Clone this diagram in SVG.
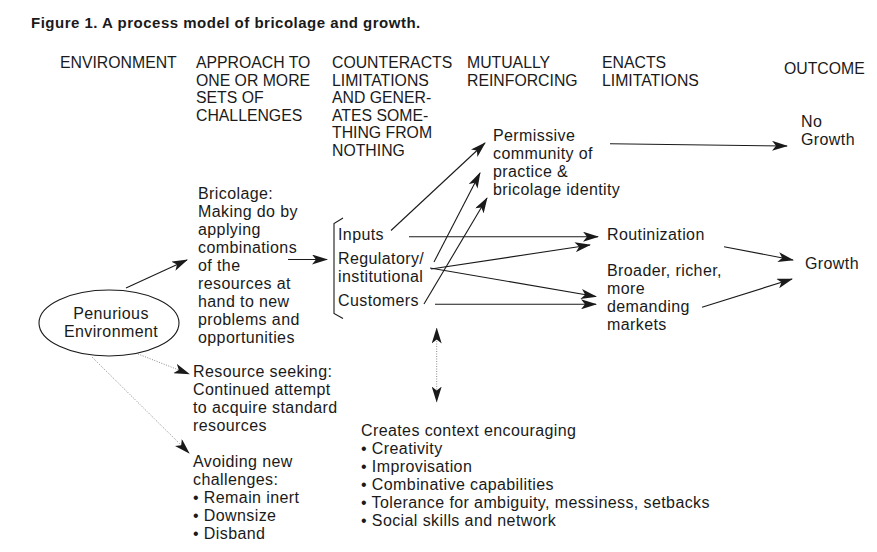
<svg xmlns="http://www.w3.org/2000/svg" width="877" height="552" viewBox="0 0 877 552">
<style>
text{font-family:"Liberation Sans",Arial,sans-serif;fill:#1a1a1a}
.t{font-size:15px;font-weight:bold;letter-spacing:0.5px}
.h{font-size:15.8px}
.b{font-size:16px;letter-spacing:0.4px}
.ln{stroke:#1a1a1a;stroke-width:1.1;fill:none}
.dot{stroke:#8a8a8a;stroke-width:1;stroke-dasharray:1 1.5;fill:none}
</style>
<defs>
<marker id="ah" viewBox="0 0 16 10" refX="15" refY="5" markerWidth="16" markerHeight="10" markerUnits="userSpaceOnUse" orient="auto-start-reverse">
<path d="M0,0 L16,5 L0,10 L4,5 Z" fill="#1a1a1a"/>
</marker>
</defs>
<rect width="877" height="552" fill="#fff"/>
<text class="t" x="31" y="28">Figure 1. A process model of bricolage and growth.</text>
<g id="headings" class="h">
<text class="h" x="60" y="68">ENVIRONMENT</text>
<text class="h" x="196" y="68">APPROACH TO<tspan x="196" dy="17.6">ONE OR MORE</tspan><tspan x="196" dy="17.6">SETS OF</tspan><tspan x="196" dy="17.6">CHALLENGES</tspan></text>
<text class="h" x="332" y="68">COUNTERACTS<tspan x="332" dy="17.6">LIMITATIONS</tspan><tspan x="332" dy="17.6">AND GENER-</tspan><tspan x="332" dy="17.6">ATES SOME-</tspan><tspan x="332" dy="17.6">THING FROM</tspan><tspan x="332" dy="17.6">NOTHING</tspan></text>
<text class="h" x="467" y="68">MUTUALLY<tspan x="467" dy="17.6">REINFORCING</tspan></text>
<text class="h" x="602" y="68">ENACTS<tspan x="602" dy="17.6">LIMITATIONS</tspan></text>
<text class="h" x="784" y="74">OUTCOME</text>
</g>
<g id="penurious">
<ellipse cx="109" cy="323" rx="70" ry="33" class="ln"/>
<text class="b" x="111" y="319" text-anchor="middle">Penurious</text>
<text class="b" x="111" y="337" text-anchor="middle">Environment</text>
</g>
<g id="bricolage">
<text class="b" x="198" y="199">Bricolage:<tspan x="198" dy="18">Making do by</tspan><tspan x="198" dy="18">applying</tspan><tspan x="198" dy="18">combinations</tspan><tspan x="198" dy="18">of the</tspan><tspan x="198" dy="18">resources at</tspan><tspan x="198" dy="18">hand to new</tspan><tspan x="198" dy="18">problems and</tspan><tspan x="198" dy="18">opportunities</tspan></text>
</g>
<g id="resource-seeking">
<text class="b" x="193" y="377">Resource seeking:<tspan x="193" dy="18">Continued attempt</tspan><tspan x="193" dy="18">to acquire standard</tspan><tspan x="193" dy="18">resources</tspan></text>
</g>
<g id="avoiding">
<text class="b" x="193" y="467">Avoiding new<tspan x="193" dy="18">challenges:</tspan><tspan x="193" dy="18">• Remain inert</tspan><tspan x="193" dy="18">• Downsize</tspan><tspan x="193" dy="18">• Disband</tspan></text>
</g>
<g id="resources">
<path class="ln" d="M343,218 L334,223.5 L334,313.5 L343,318.5"/>
<text class="b" x="338" y="240">Inputs</text>
<text class="b" x="338" y="264">Regulatory/<tspan x="338" dy="18">institutional</tspan></text>
<text class="b" x="338" y="306">Customers</text>
</g>
<g id="permissive">
<text class="b" x="493" y="141">Permissive<tspan x="493" dy="18">community of</tspan><tspan x="493" dy="18">practice &amp;</tspan><tspan x="493" dy="18">bricolage identity</tspan></text>
</g>
<g id="routinization">
<text class="b" x="607" y="240">Routinization</text>
</g>
<g id="markets">
<text class="b" x="607" y="276">Broader, richer,<tspan x="607" dy="18">more</tspan><tspan x="607" dy="18">demanding</tspan><tspan x="607" dy="18">markets</tspan></text>
</g>
<g id="no-growth">
<text class="b" x="801" y="127">No<tspan x="801" dy="17.5">Growth</tspan></text>
</g>
<g id="growth">
<text class="b" x="805" y="269">Growth</text>
</g>
<g id="context">
<text class="b" x="361" y="436">Creates context encouraging<tspan x="361" dy="18">• Creativity</tspan><tspan x="361" dy="18">• Improvisation</tspan><tspan x="361" dy="18">• Combinative capabilities</tspan><tspan x="361" dy="18">• Tolerance for ambiguity, messiness, setbacks</tspan><tspan x="361" dy="18">• Social skills and network</tspan></text>
</g>
<g id="connectors">
<line class="ln" x1="126" y1="288" x2="187" y2="260" marker-end="url(#ah)"/>
<line class="ln" x1="288" y1="259.5" x2="327" y2="259.5" marker-end="url(#ah)"/>
<line class="dot" x1="138" y1="354" x2="189" y2="374" marker-end="url(#ah)"/>
<line class="dot" x1="92" y1="357" x2="189" y2="453" marker-end="url(#ah)"/>
<line class="ln" x1="391" y1="230.5" x2="485" y2="143" marker-end="url(#ah)"/>
<line class="ln" x1="434" y1="262" x2="480" y2="173" marker-end="url(#ah)"/>
<line class="ln" x1="424" y1="304" x2="487" y2="198" marker-end="url(#ah)"/>
<line class="ln" x1="409" y1="236.7" x2="598" y2="236.7" marker-end="url(#ah)"/>
<line class="ln" x1="431" y1="269" x2="590" y2="245" marker-end="url(#ah)"/>
<line class="ln" x1="430" y1="268" x2="596" y2="296.5" marker-end="url(#ah)"/>
<line class="ln" x1="435" y1="304.3" x2="596" y2="304.3" marker-end="url(#ah)"/>
<line class="ln" x1="610" y1="143.7" x2="787" y2="146" marker-end="url(#ah)"/>
<line class="ln" x1="724" y1="246.7" x2="793" y2="260" marker-end="url(#ah)"/>
<line class="ln" x1="702" y1="307.3" x2="792" y2="279" marker-end="url(#ah)"/>
<line class="dot" x1="436.7" y1="328.5" x2="436.7" y2="401.5" marker-start="url(#ah)" marker-end="url(#ah)"/>
</g>
</svg>
